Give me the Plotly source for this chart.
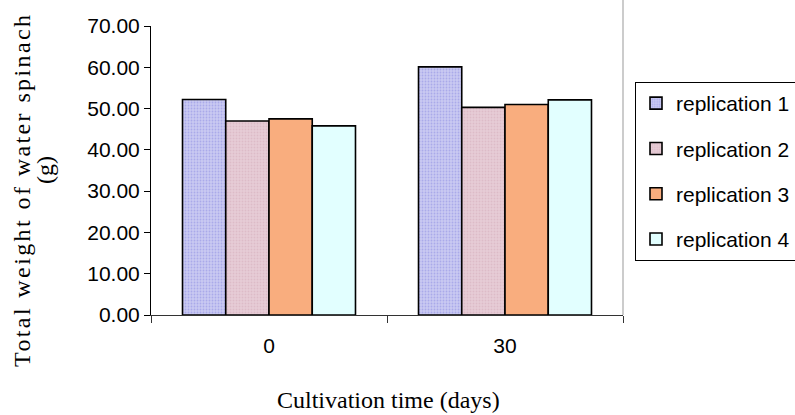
import plotly.graph_objects as go

categories = ["0", "30"]
series_names = ["replication 1", "replication 2", "replication 3", "replication 4"]
rep1 = [52.2, 60.1]
rep2 = [47.0, 50.3]
rep3 = [47.5, 51.0]
rep4 = [45.8, 52.1]
y_ticks = [0, 10, 20, 30, 40, 50, 60, 70]
x_title = "Cultivation time (days)"
y_title_1 = "Total weight of water spinach"
y_title_2 = "(g)"

values = [rep1, rep2, rep3, rep4]
colors = ["#c9c9f2", "#e6ccd6", "#f9ad7e", "#e2ffff"]
pattern_fg = ["#8c8ce0", "#d4aab8", None, None]

fig = go.Figure()
for name, vals, col, pf in zip(series_names, values, colors, pattern_fg):
    marker = dict(color=col, line=dict(color="black", width=1.6))
    if pf:
        marker["pattern"] = dict(shape=".", fgcolor=pf, bgcolor=col, size=3, solidity=0.3)
    fig.add_trace(go.Bar(x=categories, y=vals, name=name, marker=marker,
                         legendgroup=name))

serif = "Liberation Serif, Times New Roman, serif"
fig.update_layout(
    width=795, height=415,
    margin=dict(l=151, r=172, t=26, b=100, autoexpand=False),
    paper_bgcolor="white", plot_bgcolor="white",
    barmode="group", bargap=0.267, bargroupgap=0,
    font=dict(family="Liberation Sans, Arial", size=21, color="black"),
    showlegend=True,
    legend=dict(x=(635 - 151) / 472, y=(315 - 82) / 289, xanchor="left", yanchor="top",
                bordercolor="black", borderwidth=1, bgcolor="white",
                font=dict(size=21), traceorder="grouped", tracegroupgap=15,
                itemwidth=30),
    xaxis=dict(type="category", showline=True, linecolor="#333333", linewidth=1,
               ticks="outside", tickson="boundaries", ticklen=7, tickcolor="#333333",
               tickfont=dict(size=21), ticklabelstandoff=12, automargin=False),
    yaxis=dict(range=[0, 70], tickvals=y_ticks, tickformat=".2f",
               showline=True, linecolor="black", linewidth=1,
               ticks="outside", ticklen=6, tickcolor="black", showgrid=False,
               zeroline=False, tickfont=dict(size=21), automargin=False),
    annotations=[
        dict(text='<span style="letter-spacing:2.4px">' + y_title_1 + '</span>',
             xref="paper", yref="paper", x=(22 - 151) / 472, y=(315 - 190) / 289,
             xanchor="center", yanchor="middle", textangle=-90, showarrow=False,
             font=dict(family=serif, size=24)),
        dict(text=y_title_2,
             xref="paper", yref="paper", x=(45 - 151) / 472, y=(315 - 170) / 289,
             xanchor="center", yanchor="middle", textangle=-90, showarrow=False,
             font=dict(family=serif, size=24)),
        dict(text=x_title,
             xref="paper", yref="paper", x=(388 - 151) / 472, y=(315 - 400) / 289,
             xanchor="center", yanchor="middle", showarrow=False,
             font=dict(family=serif, size=24)),
    ],
    shapes=[dict(type="line", xref="paper", yref="paper", x0=1, x1=1, y0=0, y1=1.1,
                 line=dict(color="#999999", width=1))],
)

fig.write_html("out.html")
